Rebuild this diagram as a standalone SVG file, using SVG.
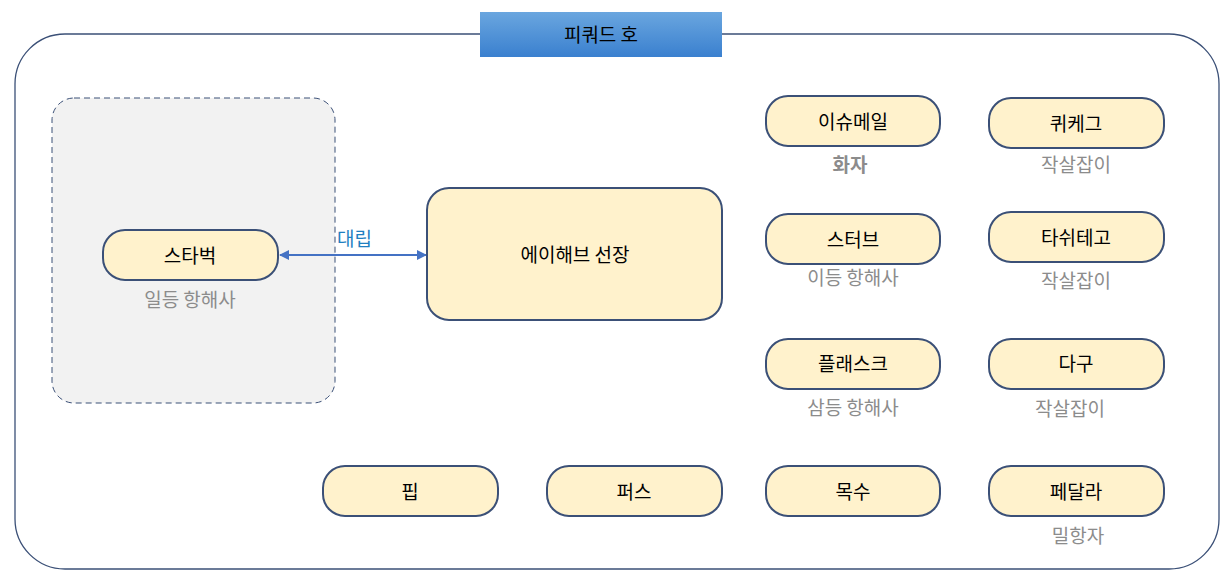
<svg xmlns="http://www.w3.org/2000/svg" width="1228" height="579" viewBox="0 0 1228 579">
<style>
text{font-family:"Noto Sans CJK KR","Noto Sans",sans-serif;}
.n{fill:#fff2cc;stroke:#3b5077;stroke-width:2}
.t{font-size:19px;fill:#000;text-anchor:middle;dominant-baseline:central}
.s{font-size:19px;fill:#8c8c8c;text-anchor:middle;dominant-baseline:central}
</style>
<defs>
<linearGradient id="g" x1="0" y1="0" x2="0" y2="1"><stop offset="0" stop-color="#6aa6df"/><stop offset="1" stop-color="#3a80cf"/></linearGradient>
<marker id="a" viewBox="0 0 10 10" refX="9" refY="5" markerWidth="5" markerHeight="5" orient="auto-start-reverse"><path d="M0,0L10,5L0,10z" fill="#4472c4"/></marker>
</defs>
<rect width="1228" height="579" fill="#fff"/>
<g id="frame"><rect x="15" y="34" width="1204" height="535" rx="50" fill="#fff" stroke="#3b5077" stroke-width="1.3"/></g>
<g id="title"><rect x="480" y="12" width="242" height="45" fill="url(#g)"/><text class="t" x="601" y="33">피쿼드 호</text></g>
<g id="group1"><rect x="52" y="98" width="283" height="305" rx="22" fill="#f2f2f2" stroke="#3b5077" stroke-width="1" stroke-dasharray="6,4"/></g>
<g id="connectors"><line x1="280" y1="255" x2="426" y2="255" stroke="#4472c4" stroke-width="2" marker-start="url(#a)" marker-end="url(#a)"/><text x="337" y="237" font-size="19" fill="#1f7fc1" dominant-baseline="central">대립</text></g>
<g id="starbuck"><rect class="n" x="103" y="230" width="175" height="50" rx="22"/><text class="t" x="190" y="254">스타벅</text><text class="s" x="190" y="298">일등 항해사</text></g>
<g id="ahab"><rect class="n" x="427" y="188" width="295" height="132" rx="22"/><text class="t" x="575" y="253">에이해브 선장</text></g>
<g id="ishmael"><rect class="n" x="766" y="96" width="174" height="50" rx="22"/><text class="t" x="853" y="120">이슈메일</text><text class="s" x="850" y="163" font-weight="bold" fill="#7f7f7f">화자</text></g>
<g id="queequeg"><rect class="n" x="989" y="98" width="175" height="50" rx="22"/><text class="t" x="1076" y="122">퀴케그</text><text class="s" x="1076" y="163">작살잡이</text></g>
<g id="stubb"><rect class="n" x="766" y="214" width="174" height="50" rx="22"/><text class="t" x="853" y="238">스터브</text><text class="s" x="853" y="276">이등 항해사</text></g>
<g id="tashtego"><rect class="n" x="989" y="212" width="175" height="50" rx="22"/><text class="t" x="1076" y="236">타쉬테고</text><text class="s" x="1076" y="279">작살잡이</text></g>
<g id="flask"><rect class="n" x="766" y="339" width="174" height="50" rx="22"/><text class="t" x="853" y="362">플래스크</text><text class="s" x="853" y="406">삼등 항해사</text></g>
<g id="daggoo"><rect class="n" x="989" y="339" width="175" height="50" rx="22"/><text class="t" x="1076" y="362">다구</text><text class="s" x="1070" y="407">작살잡이</text></g>
<g id="pip"><rect class="n" x="323" y="466" width="175" height="50" rx="22"/><text class="t" x="410" y="490">핍</text></g>
<g id="perth"><rect class="n" x="547" y="466" width="175" height="50" rx="22"/><text class="t" x="634" y="490">퍼스</text></g>
<g id="sailor"><rect class="n" x="766" y="466" width="174" height="50" rx="22"/><text class="t" x="853" y="490">목수</text></g>
<g id="fedallah"><rect class="n" x="989" y="466" width="175" height="50" rx="22"/><text class="t" x="1076" y="490">페달라</text><text class="s" x="1078" y="534">밀항자</text></g>
</svg>
